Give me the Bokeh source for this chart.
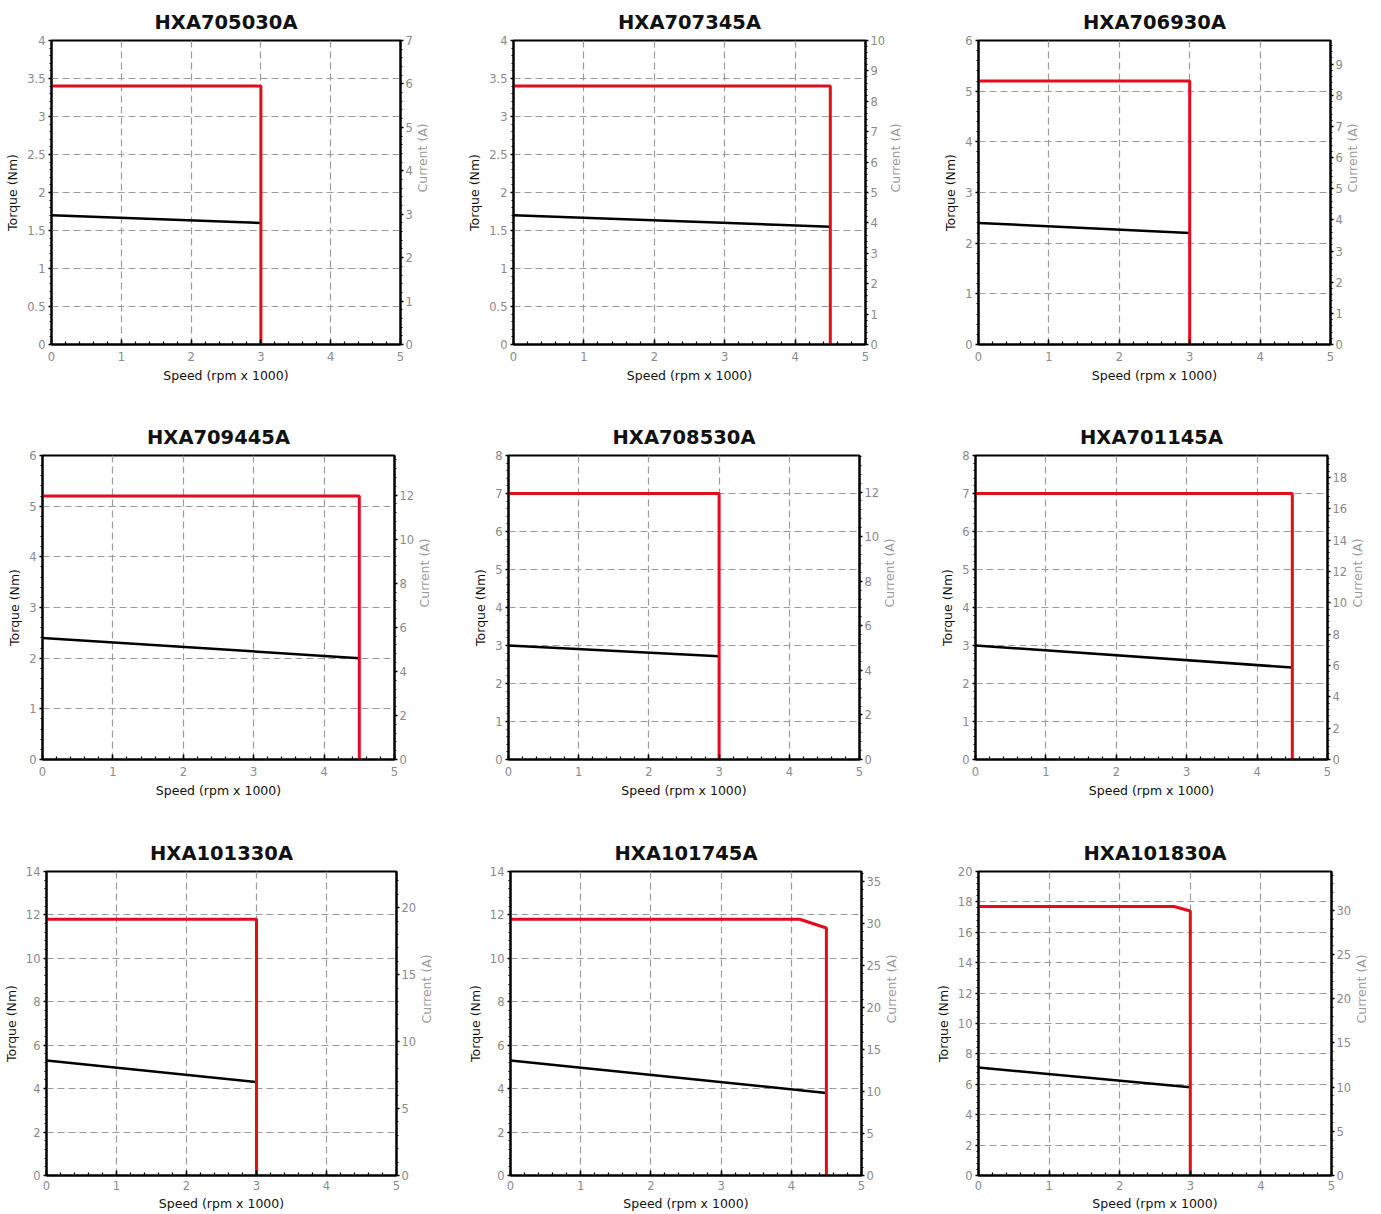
import math
from bokeh.plotting import figure
from bokeh.models import Range1d, LinearAxis, SingleIntervalTicker, CustomJSTickFormatter
from bokeh.layouts import column, row
from bokeh.embed import file_html
from bokeh.resources import INLINE

# ---------------- data ----------------
titles = ["HXA705030A", "HXA707345A", "HXA706930A",
          "HXA709445A", "HXA708530A", "HXA701145A",
          "HXA101330A", "HXA101745A", "HXA101830A"]

# peak torque curve (red): speed (rpm x 1000) / torque (Nm)
peak_speed = [[0, 3, 3], [0, 4.5, 4.5], [0, 3, 3],
              [0, 4.5, 4.5], [0, 3, 3], [0, 4.5, 4.5],
              [0, 3, 3], [0, 4.12, 4.5, 4.5], [0, 2.77, 3, 3]]
peak_torque = [[3.4, 3.4, 0], [3.4, 3.4, 0], [5.2, 5.2, 0],
               [5.2, 5.2, 0], [7.0, 7.0, 0], [7.0, 7.0, 0],
               [11.8, 11.8, 0], [11.8, 11.8, 11.4, 0], [17.7, 17.7, 17.4, 0]]

# continuous torque curve (black)
cont_speed = [[0, 3], [0, 4.5], [0, 3],
              [0, 4.5], [0, 3], [0, 4.5],
              [0, 3], [0, 4.5], [0, 3]]
cont_torque = [[1.7, 1.6], [1.7, 1.55], [2.4, 2.2],
               [2.4, 2.0], [3.0, 2.72], [3.0, 2.42],
               [5.3, 4.3], [5.3, 3.8], [7.1, 5.8]]

speed_max = 5
torque_max = [4, 4, 6, 6, 8, 8, 14, 14, 20]
torque_step = [0.5, 0.5, 1, 1, 1, 1, 2, 2, 2]
current_max = [7, 10, 9.76, 13.8, 13.64, 19.4, 22.7, 36.2, 34.4]
current_step = [1, 1, 1, 2, 2, 2, 5, 5, 5]

# ---------------- layout / style ----------------
col_widths = [464, 466, 451]
row_heights = [415, 416, 383]
row_top = [40, 40, 40]
frame_h = 304
frame_left = [51, 49, 48, 42, 44, 45, 45, 46, 48]
frame_w = [349, 352, 352, 352, 351, 352, 351, 351, 353]

FONT = "DejaVu Sans"
TICK_COLOR = "#8a8a8a"
RED = "#e30b1c"
fmt_code = "return Number(tick.toFixed(3)).toString();"
has_orient = "axis_label_orientation" in LinearAxis.properties()


def style_axis(ax, label, label_color, tick_side_in=False):
    ax.axis_label = label
    ax.axis_label_text_font = FONT
    ax.axis_label_text_font_size = "12.5px"
    ax.axis_label_text_font_style = "normal"
    ax.axis_label_text_color = label_color
    ax.major_label_text_font = FONT
    ax.major_label_text_font_size = "11.5px"
    ax.major_label_text_color = TICK_COLOR
    ax.axis_line_color = "black"
    ax.axis_line_width = 2
    ax.major_tick_line_color = "black"
    ax.minor_tick_line_color = "black"
    ax.major_tick_line_width = 1.5
    ax.minor_tick_line_width = 1.2
    ax.formatter = CustomJSTickFormatter(code=fmt_code)
    if tick_side_in:
        ax.major_tick_in = 5
        ax.major_tick_out = 0
        ax.minor_tick_in = 3
        ax.minor_tick_out = 0
    else:
        ax.major_tick_in = 0
        ax.major_tick_out = 3
        ax.minor_tick_in = 0
        ax.minor_tick_out = 2


rows = []
for r in range(3):
    figs = []
    for c in range(3):
        i = r * 3 + c
        W = col_widths[c]
        H = row_heights[r]
        p = figure(width=W, height=H,
                   x_range=Range1d(0, speed_max), y_range=Range1d(0, torque_max[i]),
                   output_backend="svg", toolbar_location=None, title=titles[i],
                   min_border_left=frame_left[i],
                   min_border_right=W - frame_left[i] - frame_w[i],
                   min_border_top=row_top[r],
                   min_border_bottom=H - row_top[r] - frame_h)
        p.background_fill_color = "white"
        p.border_fill_color = "white"
        p.outline_line_color = "black"
        p.outline_line_width = 2

        p.title.text_font = FONT
        p.title.text_font_size = "19.5px"
        p.title.text_font_style = "bold"
        p.title.text_color = "#111111"
        p.title.align = "center"
        p.title.standoff = 14

        # x axis
        xa = p.xaxis[0]
        xa.ticker = SingleIntervalTicker(interval=1, num_minor_ticks=5)
        style_axis(xa, "Speed (rpm x 1000)", "#111111", tick_side_in=True)
        if r == 2:
            xa.major_label_standoff = 5
            xa.axis_label_standoff = 3
        else:
            xa.major_label_standoff = 7
            xa.axis_label_standoff = 4

        # left axis (torque)
        ya = p.yaxis[0]
        ya.ticker = SingleIntervalTicker(interval=torque_step[i], num_minor_ticks=5)
        style_axis(ya, "Torque (Nm)", "#111111")
        ya.major_label_standoff = 3
        ya.axis_label_standoff = 4

        # right axis (current)
        p.extra_y_ranges = {"cur": Range1d(0, current_max[i])}
        ra = LinearAxis(y_range_name="cur",
                        ticker=SingleIntervalTicker(interval=current_step[i], num_minor_ticks=5))
        style_axis(ra, "Current (A)", "#9a9a9a")
        ra.major_label_standoff = 2
        ra.axis_label_standoff = 7
        if has_orient:
            ra.axis_label_orientation = math.pi / 2
        p.add_layout(ra, "right")

        # grids
        for g in (p.xgrid[0], p.ygrid[0]):
            g.grid_line_color = "#9c9c9c"
            g.grid_line_width = 1.2
            g.grid_line_dash = "7 4"

        p.line(cont_speed[i], cont_torque[i], line_color="black", line_width=2.5)
        p.line(peak_speed[i], peak_torque[i], line_color=RED, line_width=3)
        figs.append(p)
    rows.append(row(*figs, spacing=0))

layout = column(*rows, spacing=0)
open("out.html", "w").write(file_html(layout, INLINE))
